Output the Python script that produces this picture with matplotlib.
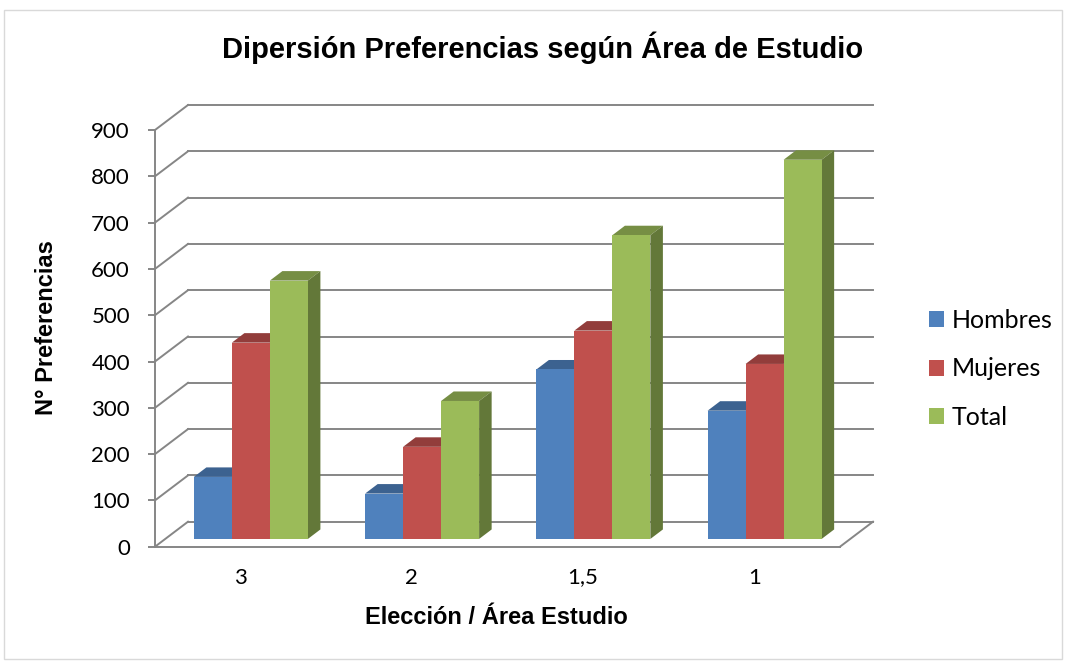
import matplotlib.pyplot as plt
from matplotlib.patches import Polygon, Rectangle, Patch
from matplotlib.colors import to_rgb

# Chart data
CATEGORIES = ["3", "2", "1,5", "1"]
SERIES = ["Hombres", "Mujeres", "Total"]
HOMBRES = [134, 98, 366, 277]
MUJERES = [424, 199, 450, 378]
TOTAL = [558, 298, 656, 819]
Y_TICKS = list(range(0, 901, 100))

COLORS = ["#4F81BD", "#C0504D", "#9BBB59"]
GRID = "#868686"

plt.rcParams['font.family'] = ['Lato', 'DejaVu Sans']
BOLD_FONT = ['Liberation Sans', 'DejaVu Sans']


def shade(color, k):
    r, g, b = to_rgb(color)
    return (r * k, g * k, b * k)


W, H = 1065, 662
fig = plt.figure(figsize=(W / 100, H / 100), dpi=100)

# front plane of the fake 3d box (pixels from top-left)
left, right, bottom, top = 155, 840, 546.7, 130
ax = fig.add_axes([left / W, 1 - bottom / H, (right - left) / W, (bottom - top) / H])
n = len(CATEGORIES)
ax.set_xlim(-0.5, n - 0.5)
ax.set_ylim(0, 900)

px_x = (right - left) / n
px_y = (bottom - top) / 900
dx, dy = 33 / px_x, 25 / px_y      # full depth of the box in data units
front = 0.31                        # where the bars' front face sits in depth
depth = 0.38                        # bar depth as fraction of box depth
bw = 38 / px_x                      # bar width

# back wall grid + left wall diagonals + floor
x0, x1 = -0.5, n - 0.5
for v in Y_TICKS:
    ax.plot([x0 + dx, x1 + dx], [v + dy, v + dy], color=GRID, lw=1.4, zorder=1, clip_on=False)
    ax.plot([x0, x0 + dx], [v, v + dy], color=GRID, lw=1.4, zorder=1, clip_on=False)
ax.plot([x1, x1 + dx], [0, dy], color=GRID, lw=1.4, zorder=1, clip_on=False)

# bars
values = [HOMBRES, MUJERES, TOTAL]
k = 0
for i in range(n):
    for j, (vals, col) in enumerate(zip(values, COLORS)):
        v = vals[i]
        xl = i - 1.5 * bw + j * bw + front * dx
        yb = front * dy
        ddx, ddy = depth * dx, depth * dy
        z = 3 + 0.01 * k
        top_face = Polygon([(xl, yb + v), (xl + bw, yb + v), (xl + bw + ddx, yb + v + ddy),
                            (xl + ddx, yb + v + ddy)], closed=True,
                           facecolor=shade(col, 0.76), edgecolor='none', zorder=z, clip_on=False)
        side_face = Polygon([(xl + bw, yb), (xl + bw, yb + v), (xl + bw + ddx, yb + v + ddy),
                             (xl + bw + ddx, yb + ddy)], closed=True,
                            facecolor=shade(col, 0.64), edgecolor='none', zorder=z, clip_on=False)
        ax.add_patch(top_face)
        ax.add_patch(side_face)
        ax.bar(xl, v, width=bw, bottom=yb, align='edge', color=col, zorder=z + 0.005, clip_on=False)
        k += 1

# axes styling
for s in ['top', 'right']:
    ax.spines[s].set_visible(False)
for s in ['left', 'bottom']:
    ax.spines[s].set_color(GRID)
    ax.spines[s].set_linewidth(1.4)
ax.set_yticks(Y_TICKS)
ax.set_xticks(range(n), CATEGORIES)
ax.tick_params(axis='y', length=5, width=1.4, color=GRID, pad=13, labelsize=16)
ax.tick_params(axis='x', length=0, pad=15, labelsize=16)
ax.set_facecolor('none')

# texts
fig.text(543 / W, 1 - 48 / H, "Dipersión Preferencias según Área de Estudio",
         ha='center', va='center', fontsize=21, fontweight='bold', family=BOLD_FONT)
fig.text(496 / W, 1 - 618 / H, "Elección / Área Estudio",
         ha='center', va='center', fontsize=17, fontweight='bold', family=BOLD_FONT)
fig.text(47 / W, 1 - 328 / H, "N° Preferencias", rotation=90,
         ha='center', va='center', fontsize=17, fontweight='bold', family=BOLD_FONT)

# legend
handles = [Patch(facecolor=c, edgecolor='none') for c in COLORS]
fig.legend(handles, SERIES, loc='center left', bbox_to_anchor=(929 / W, 1 - 369 / H),
           frameon=False, fontsize=18, handlelength=0.6, handleheight=0.6,
           handletextpad=0.32, labelspacing=1.02, borderaxespad=0, borderpad=0)

# chart border
fig.patches.append(Rectangle((4 / W, 3 / H), 1058 / W, 649 / H, transform=fig.transFigure,
                             fill=False, edgecolor='#D9D9D9', lw=1))

fig.savefig("out.png", dpi=100)
